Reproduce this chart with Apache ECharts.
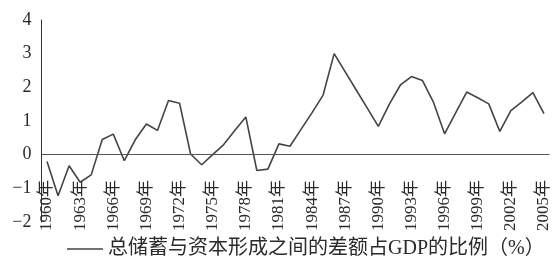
<!DOCTYPE html>
<html>
<head>
<meta charset="utf-8">
<script src="https://cdn.jsdelivr.net/npm/echarts@6/dist/echarts.min.js"></script>
<style>
  html, body { margin: 0; padding: 0; background: #fff; }
  #chart { width: 558px; height: 267px; }
</style>
</head>
<body>
<div id="chart"></div>
<script>
var years = [];
for (var y = 1960; y <= 2005; y++) years.push(y + "年");

// 总储蓄与资本形成之间的差额占GDP的比例（%）
var gapRatio = [
  -0.2, -1.22, -0.33, -0.82, -0.6, 0.45, 0.61, -0.18, 0.45, 0.91,
  0.72, 1.61, 1.53, 0.02, -0.3, 0.0, 0.3, 0.72, 1.12, -0.47,
  -0.43, 0.32, 0.25, 0.75, 1.25, 1.77, 3.0, 2.46, 1.92, 1.38,
  0.84, 1.5, 2.07, 2.32, 2.2, 1.55, 0.62, 1.24, 1.86, 1.69,
  1.51, 0.69, 1.31, 1.57, 1.84, 1.22
];
var seriesName = "总储蓄与资本形成之间的差额占GDP的比例（%）";

var myChart = echarts.init(document.getElementById("chart"));
var option = {
  animation: false,
  backgroundColor: "#fff",
  grid: {
    left: 41.5, right: 8.5, top: 20, bottom: 45,
    containLabel: false,
    outerBoundsMode: "none"
  },
  legend: {
    bottom: 3,
    left: 62,
    icon: "rect",
    itemWidth: 36,
    itemHeight: 1.5,
    itemGap: 6,
    textStyle: {
      fontSize: 20,
      color: "#2a2a2a",
      fontFamily: "Liberation Serif, Noto Sans CJK SC"
    },
    data: [seriesName]
  },
  xAxis: {
    type: "category",
    boundaryGap: true,
    data: years,
    axisLine: { show: false, onZero: false },
    axisTick: { show: false },
    axisLabel: {
      interval: 2,
      rotate: 90,
      margin: -42,
      fontSize: 17,
      color: "#2a2a2a",
      fontFamily: "Liberation Serif, Noto Sans CJK SC"
    }
  },
  yAxis: {
    type: "value",
    min: -2,
    max: 4,
    interval: 1,
    splitLine: { show: false },
    axisTick: { show: false },
    axisLine: { show: true, lineStyle: { color: "#333", width: 1 } },
    axisLabel: {
      margin: 10,
      fontSize: 18,
      color: "#2a2a2a",
      fontFamily: "Liberation Serif",
      formatter: function (v) {
        return v < 0 ? "\u2212" + Math.abs(v) : String(v);
      }
    }
  },
  series: [
    {
      name: seriesName,
      type: "line",
      data: gapRatio,
      showSymbol: false,
      symbol: "none",
      lineStyle: { color: "#444", width: 1.6 },
      itemStyle: { color: "#444" },
      markLine: {
        silent: true,
        symbol: "none",
        label: { show: false },
        lineStyle: { color: "#555", width: 1, type: "solid" },
        data: [{ yAxis: 0 }]
      }
    }
  ]
};
myChart.setOption(option);
</script>
</body>
</html>
